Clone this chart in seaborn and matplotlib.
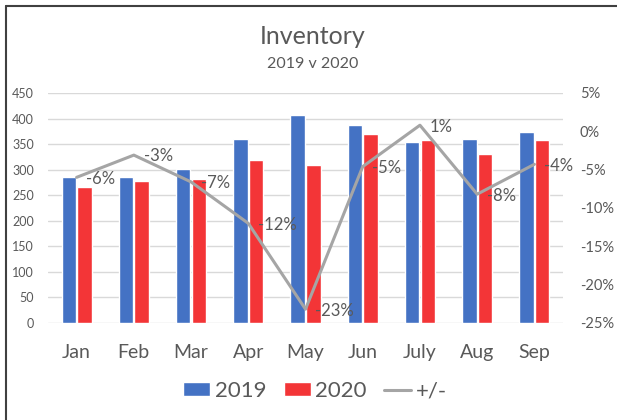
import numpy as np
import pandas as pd
import seaborn as sns
import matplotlib.pyplot as plt
from matplotlib.patches import Patch
from matplotlib.lines import Line2D
from matplotlib.ticker import PercentFormatter

# =========================================================
# DATA
# =========================================================
MONTHS = ["Jan", "Feb", "Mar", "Apr", "May", "Jun", "July", "Aug", "Sep"]
INV_2019 = [286, 286, 302, 360, 406, 387, 355, 360, 374]
INV_2020 = [267, 278, 281, 318, 309, 369, 358, 331, 358]
CHANGE = [-0.060, -0.031, -0.066, -0.120, -0.232, -0.046, 0.008, -0.082, -0.043]

COL_2019 = "#4472C4"
COL_2020 = "#F33537"
COL_LINE = "#A5A5A5"
COL_TEXT = "#595959"
COL_GRID = "#D9D9D9"

df = pd.DataFrame({
    "month": MONTHS * 2,
    "year": ["2019"] * len(MONTHS) + ["2020"] * len(MONTHS),
    "value": INV_2019 + INV_2020,
})

# =========================================================
# FIGURE
# =========================================================
sns.set_theme(style="white")
plt.rcParams["font.family"] = ["Lato", "DejaVu Sans"]
plt.rcParams["axes.unicode_minus"] = False

W, H = 617, 420
fig = plt.figure(figsize=(W / 100, H / 100), dpi=100)
ax = fig.add_axes([48 / W, (H - 323) / H, 515 / W, 230 / H])

sns.barplot(
    data=df, x="month", y="value", hue="year",
    palette=[COL_2019, COL_2020], width=0.55, gap=0.08, saturation=1,
    ax=ax, legend=False, errorbar=None,
)
ax.set_ylim(0, 450)
ax.set_yticks(np.arange(0, 451, 50))
ax.set_xlabel("")
ax.set_ylabel("")
ax.grid(axis="y", color=COL_GRID, lw=1)
ax.set_axisbelow(True)
for s in ax.spines.values():
    s.set_visible(False)
ax.tick_params(axis="y", labelsize=9, labelcolor=COL_TEXT, length=0, pad=10)
ax.tick_params(axis="x", labelsize=14, labelcolor=COL_TEXT, length=0, pad=15)

ax2 = ax.twinx()
xpos = np.arange(len(MONTHS))
sns.lineplot(x=xpos, y=CHANGE, ax=ax2, color=COL_LINE, lw=2.2)
ax2.set_ylim(-0.25, 0.05)
ax2.set_yticks(np.round(np.arange(-0.25, 0.051, 0.05), 2) + 0.0)
ax2.yaxis.set_major_formatter(PercentFormatter(1.0, decimals=0))
for s in ax2.spines.values():
    s.set_visible(False)
ax2.tick_params(axis="y", labelsize=10.5, labelcolor=COL_TEXT, length=0, pad=12)
ax.set_xlim(-0.5, len(MONTHS) - 0.5)

for i, v in enumerate(CHANGE):
    ax2.annotate(f"{v * 100:.0f}%", (i, v), xytext=(7, -1), textcoords="offset points",
                 ha="left", va="center", fontsize=12, color=COL_TEXT)

# title
fig.text(313 / W, 1 - 37 / H, "Inventory", ha="center", va="center", fontsize=18, color=COL_TEXT)
fig.text(313 / W, 1 - 64 / H, "2019 v 2020", ha="center", va="center", fontsize=11.5, color=COL_TEXT)

# legend
handles = [
    Patch(facecolor=COL_2019, label="2019"),
    Patch(facecolor=COL_2020, label="2020"),
    Line2D([0], [0], color=COL_LINE, lw=2.2, label="+/-"),
]
fig.legend(handles=handles, ncol=3, loc="center", bbox_to_anchor=(315 / W, 1 - 391 / H),
           frameon=False, fontsize=16, labelcolor=COL_TEXT, handlelength=1.2,
           handleheight=0.6, handletextpad=0.2, columnspacing=0.8)

# chart border (top + left visible)
fig.add_artist(Line2D([6 / W, 1], [1 - 6 / H, 1 - 6 / H], color="#404040", lw=1.5,
                      transform=fig.transFigure))
fig.add_artist(Line2D([6 / W, 6 / W], [0, 1 - 6 / H], color="#404040", lw=1.5,
                      transform=fig.transFigure))

plt.savefig("out.png", dpi=100)
